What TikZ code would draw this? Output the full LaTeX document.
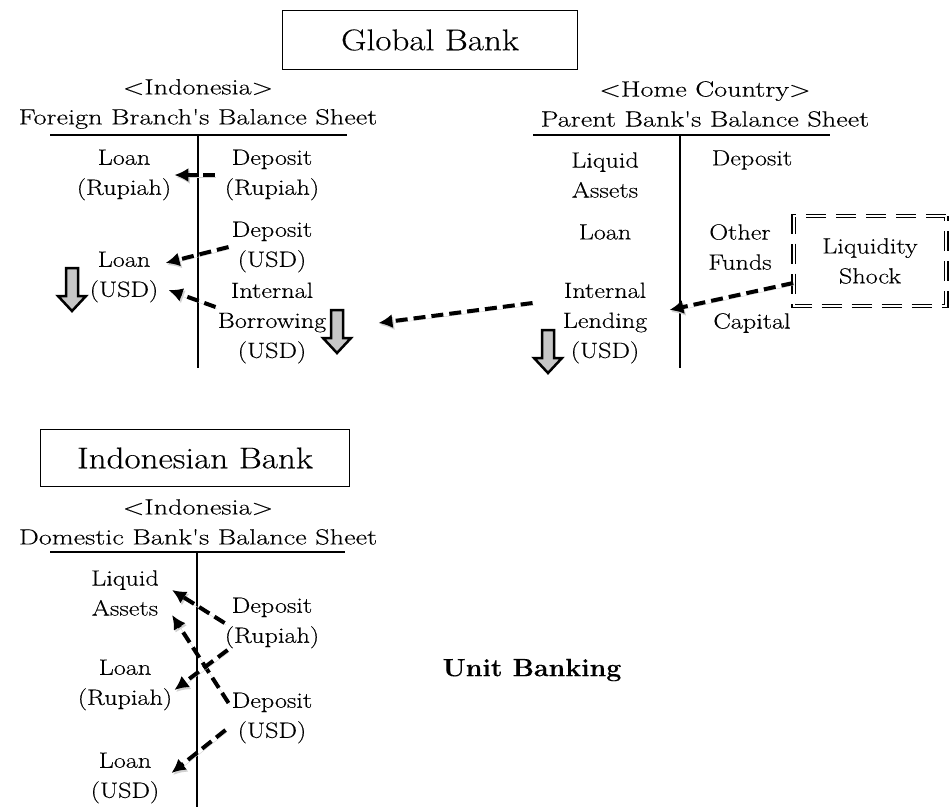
\documentclass[tikz,border=0pt]{standalone}
\usepackage{fontspec}
\setmainfont{Latin Modern Roman}[FakeBold=0.25]
\usetikzlibrary{arrows.meta}

\tikzset{
  item/.style={align=center, inner sep=0pt, font=\fontsize{22}{30}\selectfont, xscale=1.19, transform shape},
  heading/.style={item, xscale=1.08},
  bankbox/.style={draw, line width=1.2pt, minimum width=252pt, minimum height=59pt, font=\fontsize{30}{36}\selectfont, xscale=1.17, transform shape},
  flow/.style={-{Latex[length=14pt,width=14pt]}, line width=4pt, dash pattern=on 12pt off 6pt,
    preaction={draw=black!18, transform canvas={shift={(1.5pt,-2pt)}}}},
  sheet/.style={line width=2pt},
  sink/.style={draw, fill=gray!45, line width=2.5pt, line join=miter},
  shockbox/.style={item, draw, double, double distance=2.5pt, line width=1.1pt, dash pattern=on 20pt off 10pt,
    minimum width=128pt, minimum height=90pt},
}
\newcommand{\sinkarrow}[1]{\draw[sink] (#1) ++(-6,0) -- ++(12,0) -- ++(0,28) -- ++(8,0) -- ++(-14,15) -- ++(-14,-15) -- ++(8,0) -- cycle;}

\begin{document}
\begin{tikzpicture}[x=1pt, y=-1pt]
\useasboundingbox (0,0) rectangle (951,807);

% global bank
\node[bankbox] (global) at (430,40) {Global Bank};
\node[heading] (fTitle) at (198,104) {<Indonesia>\\Foreign Branch\textquotesingle s Balance Sheet};
\node[heading] (pTitle) at (705,104) {<Home Country>\\Parent Bank\textquotesingle s Balance Sheet};
\draw[sheet] (50,135) -- (347,135) (198,135) -- (198,368);
\draw[sheet] (533,135) -- (830,135) (680,135) -- (680,368);

\node[item] (fLoanR) at (124,175) {Loan\\(Rupiah)};
\node[item] (fDepR) at (272,175) {Deposit\\(Rupiah)};
\node[item] (fDepU) at (272,247) {Deposit\\(USD)};
\node[item] (fLoanU) at (124,277) {Loan\\(USD)};
\node[item] (fBorr) at (272,323) {Internal\\Borrowing\\(USD)};

\node[item] (pLiq) at (605,175) {Liquid\\Assets};
\node[item] (pLoan) at (605,232) {Loan};
\node[item] (pLend) at (605,323) {Internal\\Lending\\(USD)};
\node[item] (pDep) at (752,160) {Deposit};
\node[item] (pOther) at (740,247) {Other\\Funds};
\node[item] (pCap) at (752,323) {Capital};
\node[shockbox] (shock) at (870,261) {Liquidity\\Shock};

\sinkarrow{72,268}
\sinkarrow{337,310}
\sinkarrow{548,330}

\draw[flow] ([xshift=-10pt]fDepR.west) -- ([xshift=3pt]fLoanR.east);
\draw[flow] ([xshift=-3pt]fDepU.west) -- ([xshift=7pt,yshift=14pt]fLoanU.east);
\draw[flow] ([xshift=-2pt,yshift=16pt]fBorr.west) -- ([xshift=10pt,yshift=-13pt]fLoanU.east);
\draw[flow] ([xshift=-30pt,yshift=20pt]pLend.west) -- ([xshift=52pt]fBorr.east);
\draw[flow] ([yshift=-22pt]shock.west) -- ([xshift=22pt,yshift=13pt]pLend.east);

% indonesian bank
\node[bankbox, minimum width=264pt, minimum height=57pt] (local) at (195,458) {Indonesian Bank};
\node[heading] (dTitle) at (198,522) {<Indonesia>\\Domestic Bank\textquotesingle s Balance Sheet};
\draw[sheet] (50,552) -- (345,552) (197,552) -- (197,807);

\node[item] (dLiq) at (125,593) {Liquid\\Assets};
\node[item] (dDepR) at (272,623) {Deposit\\(Rupiah)};
\node[item] (dLoanR) at (125,685) {Loan\\(Rupiah)};
\node[item] (dDepU) at (272,718) {Deposit\\(USD)};
\node[item] (dLoanU) at (125,778) {Loan\\(USD)};

\draw[flow] ([xshift=0pt]dDepR.west) -- ([xshift=13pt,yshift=3pt]dLiq.east);
\draw[flow] ([xshift=-3pt,yshift=15pt]dDepU.west) -- ([xshift=13pt,yshift=-22pt]dLiq.east);
\draw[flow] ([xshift=3pt,yshift=-27pt]dDepR.west) -- ([xshift=2pt,yshift=-5pt]dLoanR.east);
\draw[flow] ([xshift=-6pt,yshift=-12pt]dDepU.west) -- ([xshift=12pt,yshift=5pt]dLoanU.east);

\node[inner sep=0pt, font=\fontsize{25}{30}\selectfont\bfseries, xscale=1.07, transform shape] (unit) at (532,670) {Unit Banking};
\end{tikzpicture}
\end{document}
